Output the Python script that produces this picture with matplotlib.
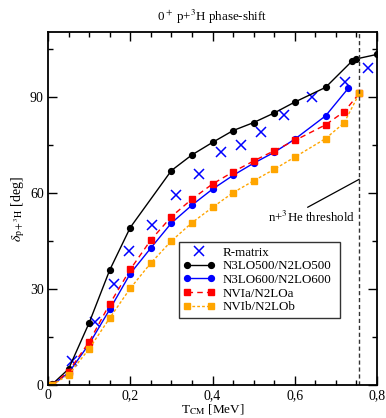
import matplotlib
matplotlib.use("Agg")
import matplotlib.pyplot as plt
from matplotlib.legend_handler import HandlerLine2D
from matplotlib.ticker import MultipleLocator, FuncFormatter

plt.rcParams['font.family'] = ['Liberation Serif', 'DejaVu Serif']
plt.rcParams['mathtext.fontset'] = 'stix'

# R-matrix
rm_x = [0.058, 0.114, 0.160, 0.198, 0.254, 0.311, 0.368, 0.420, 0.470, 0.517, 0.574, 0.641, 0.721, 0.777]
rm_y = [7.6, 19.6, 31.5, 41.9, 49.9, 59.5, 65.8, 72.7, 75.0, 79.1, 84.3, 90.1, 94.8, 99.2]

# N3LO500/N2LO500
n500_x = [0.01, 0.05, 0.10, 0.15, 0.20, 0.30, 0.35, 0.40, 0.45, 0.50, 0.55, 0.60, 0.675, 0.74, 0.75, 0.80]
n500_y = [0.2, 5.0, 19.4, 35.9, 49.2, 67.0, 71.9, 75.8, 79.5, 82.0, 85.0, 88.4, 93.0, 101.3, 101.9, 103.3]

# N3LO600/N2LO600
n600_x = [0.01, 0.05, 0.10, 0.15, 0.20, 0.25, 0.30, 0.35, 0.40, 0.45, 0.50, 0.55, 0.60, 0.675, 0.73]
n600_y = [0.0, 3.8, 12.8, 23.6, 34.8, 42.8, 50.6, 56.2, 61.2, 65.5, 69.3, 72.7, 76.8, 84.1, 92.7]

# NVIa/N2LOa
nvia_x = [0.01, 0.05, 0.10, 0.15, 0.20, 0.25, 0.30, 0.35, 0.40, 0.45, 0.50, 0.55, 0.60, 0.675, 0.72, 0.757]
nvia_y = [0.0, 4.2, 13.5, 25.3, 36.1, 45.3, 52.6, 58.1, 62.8, 66.6, 70.0, 73.2, 76.4, 81.3, 85.4, 91.1]

# NVIb/N2LOb
nvib_x = [0.01, 0.05, 0.10, 0.15, 0.20, 0.25, 0.30, 0.35, 0.40, 0.45, 0.50, 0.55, 0.60, 0.675, 0.72, 0.757]
nvib_y = [0.0, 3.2, 11.3, 20.9, 30.2, 38.1, 45.0, 50.7, 55.5, 60.1, 63.8, 67.4, 71.2, 77.0, 81.9, 91.1]

threshold = 0.757

fig = plt.figure(figsize=(3.86, 4.18), dpi=100)
ax = fig.add_axes([48/386, 1-385/418, (377-48)/386, (385-32)/418])

l_rm, = ax.plot(rm_x, rm_y, ls='none', marker='x', ms=7, mew=1.1, color='#0000ff', label='R-matrix')
ax.plot(n500_x, n500_y, '-', color='black', lw=1.0, marker='o', ms=4.2, label='N3LO500/N2LO500')
ax.plot(n600_x, n600_y, '-', color='#0000ff', lw=1.0, marker='o', ms=4.2, label='N3LO600/N2LO600')
ax.plot(nvia_x, nvia_y, color='#ff0000', lw=1.0, ls=(0, (4, 3)), marker='s', ms=4.0, label='NVIa/N2LOa')
ax.plot(nvib_x, nvib_y, color='#ffa500', lw=1.0, ls=(0, (2, 1.5)), marker='s', ms=4.0, label='NVIb/N2LOb')

ax.axvline(threshold, color='#333333', lw=1.0, ls=(0, (3, 2)))

ax.annotate('n+$^3$He threshold', xy=(0.757, 64.3), xytext=(0.64, 52.3),
            ha='center', va='center', fontsize=9.3,
            arrowprops=dict(arrowstyle='-', color='black', lw=0.9, shrinkA=0, shrinkB=0,
                            relpos=(0.4, 1.0)))

ax.set_xlim(0, 0.8)
ax.set_ylim(0, 110.3)
ax.xaxis.set_major_locator(MultipleLocator(0.2))
ax.xaxis.set_minor_locator(MultipleLocator(0.05))
ax.yaxis.set_major_locator(MultipleLocator(30))
ax.yaxis.set_minor_locator(MultipleLocator(15))
ax.xaxis.set_major_formatter(FuncFormatter(lambda v, p: '0' if abs(v) < 1e-9 else ('%g' % round(v, 2)).replace('.', ',')))
ax.tick_params(which='both', direction='in', top=True, right=True, labelsize=10, width=1.0)
ax.tick_params(which='major', length=6.5, pad=3)
ax.tick_params(which='minor', length=3.5)
for s in ax.spines.values():
    s.set_linewidth(1.3)

ax.set_title('0$^+$ p+$^3$H phase-shift', fontsize=9.4, pad=8)
ax.set_xlabel('T$_{\\mathrm{CM}}$ [MeV]', fontsize=9.5, labelpad=0)
ax.set_ylabel('$\\delta_{\\mathrm{p+^3H}}$ [deg]', fontsize=10, labelpad=2)

leg = ax.legend(loc='lower left', bbox_to_anchor=((179-48)/329, (385-318)/353, (340-179)/329, (318-244)/353),
                mode='expand', borderaxespad=0, fontsize=9.4, frameon=True, fancybox=False, edgecolor='black',
                handlelength=2.4, handletextpad=0.6, labelspacing=0.12, borderpad=0.35,
                numpoints=2, handler_map={l_rm: HandlerLine2D(numpoints=1)})
leg.get_frame().set_linewidth(1.0)

fig.savefig('out.png', dpi=100)
